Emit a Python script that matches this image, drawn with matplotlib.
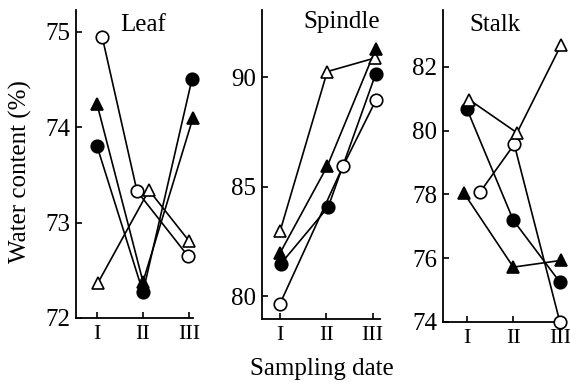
import matplotlib
matplotlib.use("Agg")
import matplotlib.pyplot as plt

plt.rcParams['font.family'] = ['Liberation Serif', 'DejaVu Serif']

# sampling dates
dates = ["I", "II", "III"]
x_pos = [1, 2, 3]

# water content (%), four series per organ
leaf_open_circle = [74.95, 73.33, 72.65]
leaf_open_tri = [72.37, 73.34, 72.81]
leaf_filled_tri = [74.24, 72.38, 74.10]
leaf_filled_circle = [73.80, 72.27, 74.51]

spindle_open_tri = [82.97, 90.26, 90.88]
spindle_filled_tri = [81.98, 85.94, 91.30]
spindle_filled_circle = [81.50, 84.08, 90.17]
spindle_open_circle = [79.67, 85.94, 88.95]

stalk_open_tri = [80.97, 79.93, 82.67]
stalk_filled_circle = [80.69, 77.19, 75.25]
stalk_open_circle = [78.06, 79.57, 74.00]
stalk_filled_tri = [78.04, 75.72, 75.93]

# marker styles: (marker, fill)
styles = {
    "open_circle": ("o", "white"),
    "open_tri": ("^", "white"),
    "filled_tri": ("^", "black"),
    "filled_circle": ("o", "black"),
}

# small horizontal dodge of markers, as in the original figure
leaf = [
    ("open_tri", leaf_open_tri, [0.02, 0.13, 0.0]),
    ("filled_tri", leaf_filled_tri, [0.0, 0.0, 0.09]),
    ("filled_circle", leaf_filled_circle, [0.0, 0.0, 0.07]),
    ("open_circle", leaf_open_circle, [0.11, -0.13, -0.02]),
]
spindle = [
    ("open_tri", spindle_open_tri, [0.0, 0.02, 0.05]),
    ("filled_tri", spindle_filled_tri, [0.0, 0.02, 0.07]),
    ("filled_circle", spindle_filled_circle, [0.02, 0.04, 0.07]),
    ("open_circle", spindle_open_circle, [0.0, 0.36, 0.07]),
]
stalk = [
    ("filled_tri", stalk_filled_tri, [-0.06, 0.0, 0.02]),
    ("filled_circle", stalk_filled_circle, [0.0, 0.0, 0.0]),
    ("open_circle", stalk_open_circle, [0.28, 0.02, 0.0]),
    ("open_tri", stalk_open_tri, [0.05, 0.08, 0.02]),
]

W, H = 570, 385
fig = plt.figure(figsize=(W / 100, H / 100), dpi=100)


def px_axes(left, right, top, bottom):
    return fig.add_axes([left / W, (H - bottom) / H, (right - left) / W, (bottom - top) / H])


panels = [
    (px_axes(76, 193, 10, 318), leaf, "Leaf", (72, 75.23), [72, 73, 74, 75], (0.54, 3.09), (0.376, 0.951)),
    (px_axes(262, 380, 10, 319), spindle, "Spindle", (78.97, 93.07), [80, 85, 90], (0.61, 3.16), (0.347, 0.961)),
    (px_axes(443, 565, 10, 322), stalk, "Stalk", (74, 83.78), [74, 76, 78, 80, 82], (0.49, 3.11), (0.213, 0.952)),
]

for ax, series, title, ylim, yticks, xlim, tpos in panels:
    for kind, vals, dx in series:
        marker, fc = styles[kind]
        xs = [x + d for x, d in zip(x_pos, dx)]
        ax.plot(xs, vals, color="black", lw=1.2, zorder=2)
        ax.plot(xs, vals, ls="none", marker=marker, ms=9 if marker == "o" else 8.5,
                mfc=fc, mec="black", mew=1.2, zorder=3, clip_on=False)
    ax.set_ylim(*ylim)
    ax.set_xlim(*xlim)
    ax.set_yticks(yticks)
    ax.set_xticks(x_pos)
    ax.set_xticklabels(dates)
    ax.spines["top"].set_visible(False)
    ax.spines["right"].set_visible(False)
    ax.spines["left"].set_linewidth(1.3)
    ax.spines["bottom"].set_linewidth(1.3)
    ax.tick_params(direction="in", length=4, width=1.2, labelsize=18, pad=4)
    ax.tick_params(axis="x", labelsize=16, pad=5)
    ax.text(tpos[0], tpos[1], title, transform=ax.transAxes, fontsize=18, ha="left", va="center")

fig.text(20 / W, 1 - 172 / H, "Water content (%)", rotation=90, fontsize=18, ha="center", va="center")
fig.text(322 / W, 1 - 369 / H, "Sampling date", fontsize=18, ha="center", va="center")

fig.savefig("out.png", dpi=100)
